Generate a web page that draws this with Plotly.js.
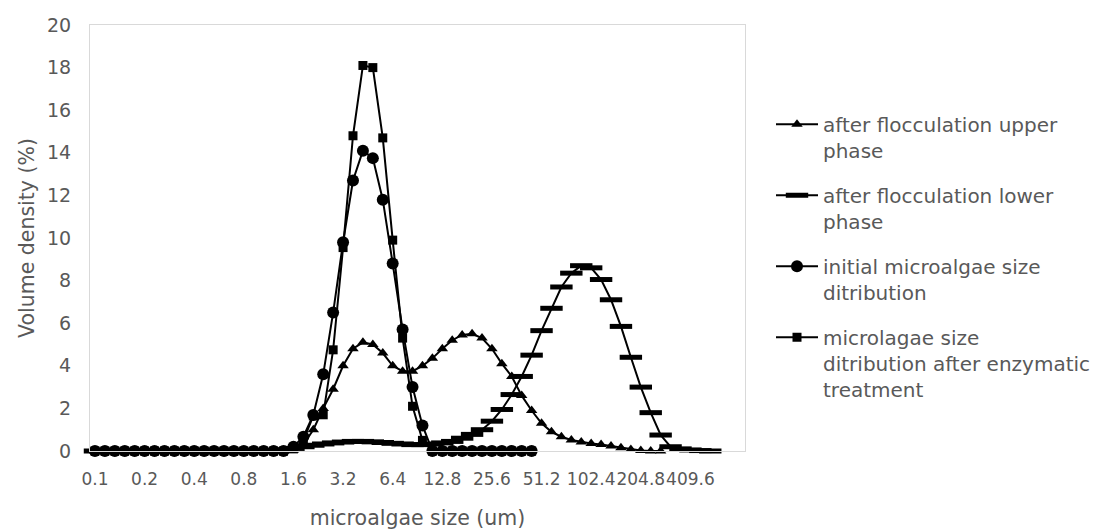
<!DOCTYPE html>
<html>
<head>
<meta charset="utf-8">
<script src="https://cdn.plot.ly/plotly-3.0.1.min.js"></script>
<style>html,body{margin:0;padding:0;background:#fff;}#chart{width:1098px;height:530px;}</style>
</head>
<body>
<div id="chart"></div>
<script>
// size classes (um)
const sizes = ["0.1","0.115","0.132","0.152","0.174","0.2","0.23","0.264","0.303","0.348",
"0.4","0.459","0.528","0.606","0.696","0.8","0.919","1.056","1.213","1.393",
"1.6","1.838","2.111","2.425","2.786","3.2","3.676","4.222","4.85","5.572",
"6.4","7.352","8.445","9.701","11.143","12.8","14.703","16.89","19.401","22.286",
"25.6","29.407","33.779","38.802","44.572","51.2","58.813","67.558","77.605","89.144",
"102.4","117.627","135.117","155.209","178.289","204.8","235.253","270.235","310.418","356.578",
"409.6","470.507","540.47","620.838","713.155","819.2"];
const tickLabels = ["0.1","0.2","0.4","0.8","1.6","3.2","6.4","12.8","25.6","51.2","102.4","204.8","409.6"];

const upperPhase = [0,0,0,0,0,0,0,0,0,0, 0,0,0,0,0,0,0,0,0,0,
 0.05,0.3,1.0,2.0,2.9,4.0,4.8,5.1,5.0,4.6,
 4.0,3.75,3.75,4.0,4.35,4.8,5.2,5.45,5.5,5.3,
 4.8,4.1,3.5,2.6,1.9,1.3,0.9,0.67,0.52,0.42,
 0.35,0.3,0.23,0.15,0.07,0.02,0,0];
const lowerPhase = [0,0,0,0,0,0,0,0,0,0, 0,0,0,0,0,0,0,0,0.02,0.06,
 0.12,0.2,0.27,0.33,0.38,0.42,0.45,0.45,0.43,0.4,
 0.36,0.33,0.3,0.3,0.33,0.38,0.45,0.6,0.78,1.0,
 1.4,1.95,2.65,3.5,4.5,5.65,6.7,7.7,8.35,8.7,
 8.6,8.05,7.1,5.85,4.4,3.0,1.8,0.75,0.2,0.1,
 0.05,0.02,0];
const initialDist = [0,0,0,0,0,0,0,0,0,0, 0,0,0,0,0,0,0,0,0,0,
 0.2,0.67,1.69,3.6,6.5,9.8,12.7,14.1,13.75,11.8,
 8.8,5.7,3.0,1.2,0,0,0,0,0,0,
 0,0,0,0,0];
const enzymaticDist = [0,0,0,0,0,0,0,0,0,0, 0,0,0,0,0,0,0,0,0,0,
 0.1,0.5,1.65,1.7,4.75,9.55,14.8,18.1,18.0,14.7,
 9.9,5.3,2.1,0.5,0,0,0,0,0,0,
 0,0,0,0,0];

const names = ["after flocculation upper<br>phase","after flocculation lower<br>phase",
 "initial microalgae size<br>ditribution","microlagae size<br>ditribution after enzymatic<br>treatment"];

function tr(vals, name, group, marker){
  return {x: sizes.slice(0, vals.length), y: vals, name: name, legendgroup: group, type:'scatter', mode:'lines+markers',
    line:{color:'#000', width:2}, marker: marker, cliponaxis:false};
}
const data = [
  tr(upperPhase, names[0], 'g1', {symbol:'triangle-up', size:10, color:'#000'}),
  tr(lowerPhase, names[1], 'g2', {symbol:'line-ew', size:16, color:'#000', line:{color:'#000', width:5}}),
  tr(initialDist, names[2], 'g3', {symbol:'circle', size:12, color:'#000'}),
  tr(enzymaticDist, names[3], 'g4', {symbol:'square', size:9, color:'#000'})
];
const font = {family:'"DejaVu Sans", sans-serif', color:'#595959'};
const layout = {
  width:1098, height:530,
  margin:{l:90, r:353, t:25, b:79, autoexpand:false},
  paper_bgcolor:'#fff', plot_bgcolor:'#fff',
  font: Object.assign({size:20}, font),
  showlegend:true,
  legend:{x:1.0397, xanchor:'left', y:0.813, yanchor:'top', bgcolor:'rgba(0,0,0,0)',
    font:Object.assign({size:20}, font), traceorder:'grouped', tracegroupgap:16, itemwidth:42, valign:'top'},
  xaxis:{type:'category', categoryorder:'array', categoryarray:sizes, range:[-0.5, sizes.length-0.5], autorange:false,
    tickmode:'array', tickvals:tickLabels, ticktext:tickLabels, tickangle:0,
    showgrid:false, zeroline:false, showline:true, mirror:true, linecolor:'#d9d9d9', linewidth:1,
    ticks:'', ticklabelstandoff:13, tickfont:Object.assign({size:17}, font),
    title:{text:'microalgae size (um)', font:Object.assign({size:20.5}, font), standoff:22}},
  yaxis:{range:[0,20], dtick:2, showgrid:false, zeroline:false, showline:true, mirror:true,
    linecolor:'#d9d9d9', linewidth:1, ticks:'', ticklabelstandoff:14, tickfont:Object.assign({size:19}, font),
    title:{text:'Volume density (%)', font:Object.assign({size:20.5}, font), standoff:6}}
};
Plotly.newPlot('chart', data, layout, {displayModeBar:false, staticPlot:true});
</script>
</body>
</html>
